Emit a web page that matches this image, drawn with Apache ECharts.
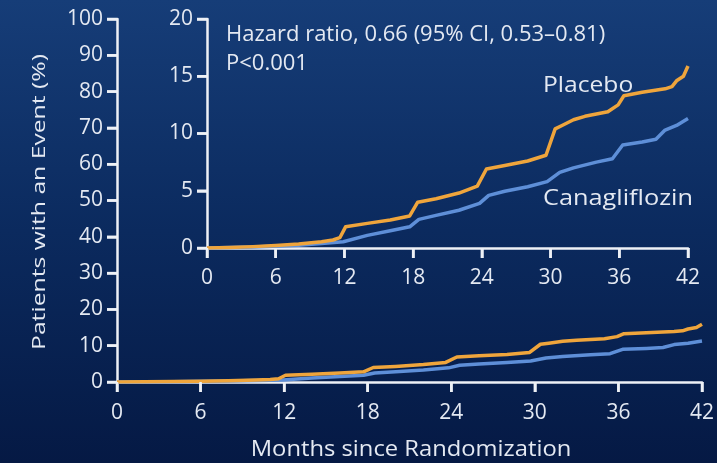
<!DOCTYPE html>
<html>
<head>
<meta charset="utf-8">
<script src="https://cdn.jsdelivr.net/npm/echarts@6/dist/echarts.min.js"></script>
<style>
  html, body { margin: 0; padding: 0; background: #0a2552; }
  #chart { width: 717px; height: 463px; }
</style>
</head>
<body>
<div id="chart"></div>
<script>
// Kaplan-Meier style cumulative incidence (%) with its own time points per group
const placeboMonths = [0, 2, 4, 6, 8, 10, 11, 11.6, 12.1, 14, 16, 17.7, 18.4, 20, 22, 23.6,
  24.4, 26, 28, 29.6, 30.4, 31, 32, 33, 35, 35.9, 36.4, 38, 40, 40.6, 41, 41.6, 42];
const placeboRisk = [0, 0.05, 0.12, 0.22, 0.35, 0.55, 0.7, 0.9, 1.85, 2.15, 2.45, 2.8, 4.0,
  4.3, 4.8, 5.4, 6.9, 7.2, 7.6, 8.1, 10.4, 10.7, 11.2, 11.5, 11.9, 12.5, 13.3, 13.6, 13.9,
  14.1, 14.6, 15.0, 15.9];

const canaMonths = [0, 4, 8, 10, 11.9, 14, 16, 17.7, 18.5, 20, 22, 23.8, 24.6, 26, 28, 29.7,
  30.8, 32, 34, 35.4, 36.3, 38, 39.2, 40, 41, 42];
const canaRisk = [0, 0.08, 0.25, 0.4, 0.55, 1.1, 1.5, 1.85, 2.5, 2.85, 3.3, 3.9, 4.6, 4.95,
  5.35, 5.8, 6.6, 7.0, 7.5, 7.8, 9.0, 9.25, 9.5, 10.3, 10.7, 11.3];

// Tick values for the full-scale plot and the zoomed inset
const monthTicks = [0, 6, 12, 18, 24, 30, 36, 42];
const mainPctTicks = [0, 10, 20, 30, 40, 50, 60, 70, 80, 90, 100];
const insetPctTicks = [0, 5, 10, 15, 20];

const seriesNames = ['Placebo', 'Canagliflozin'];
const hazardText = 'Hazard ratio, 0.66 (95% CI, 0.53\u20130.81)';
const pText = 'P<0.001';
const xTitle = 'Months since Randomization';
const yTitle = 'Patients with an Event (%)';

const FONT = '"Open Sans", "Noto Sans", sans-serif';
const TEXT = '#e4e9f2';
const AXIS = '#eef1f6';
const ORANGE = '#efa53c';
const BLUE = '#5e8fd8';
const TICK_LEN = 10;
const TICK_W = 2.5;

const pairs = (ts, vals) => ts.map((m, i) => [m, vals[i]]);
const firstOf = a => a[0];
const lastOf = a => a[a.length - 1];

function axisStyle(extra) {
  return Object.assign({
    type: 'value',
    axisLine: { show: true, onZero: false, lineStyle: { color: AXIS, width: 2.5 } },
    axisTick: { show: true, length: TICK_LEN, lineStyle: { color: AXIS, width: TICK_W } },
    axisLabel: { show: true, color: TEXT, fontSize: 21, fontFamily: FONT, margin: 14 },
    splitLine: { show: false }
  }, extra);
}

function lineSeries(name, ts, vals, axisIdx, color, z) {
  return {
    name: name, type: 'line', xAxisIndex: axisIdx, yAxisIndex: axisIdx,
    data: pairs(ts, vals), showSymbol: false, z: z,
    lineStyle: { color: color, width: 3.5, join: 'round' }
  };
}

const textElements = [
  { type: 'text', x: 40, y: 202, rotation: Math.PI / 2, scaleX: 1.3, z: 0,
    style: { text: yTitle, fill: TEXT, font: '19px ' + FONT, align: 'center', verticalAlign: 'middle' } },
  { type: 'text', x: 411, y: 450, scaleX: 1.08, z: 0,
    style: { text: xTitle, fill: TEXT, font: '22px ' + FONT, align: 'center', verticalAlign: 'middle' } },
  { type: 'text', x: 226, y: 35, z: 0,
    style: { text: hazardText, fill: TEXT, font: '22px ' + FONT, align: 'left', verticalAlign: 'middle' } },
  { type: 'text', x: 226, y: 64, z: 0,
    style: { text: pText, fill: TEXT, font: '22px ' + FONT, align: 'left', verticalAlign: 'middle' } },
  { type: 'text', x: 543, y: 86, scaleX: 1.12, z: 0,
    style: { text: seriesNames[0], fill: TEXT, font: '22px ' + FONT, align: 'left', verticalAlign: 'middle' } },
  { type: 'text', x: 543, y: 199, scaleX: 1.15, z: 0,
    style: { text: seriesNames[1], fill: TEXT, font: '22px ' + FONT, align: 'left', verticalAlign: 'middle' } }
];

const chart = echarts.init(document.getElementById('chart'), null, { renderer: 'canvas' });

chart.setOption({
  animation: false,
  backgroundColor: {
    type: 'linear', x: 0, y: 0, x2: 0, y2: 1,
    colorStops: [
      { offset: 0, color: '#163d78' },
      { offset: 0.5, color: '#0b2a5e' },
      { offset: 1, color: '#051944' }
    ]
  },
  grid: [
    { left: 117, right: 12, top: 19, bottom: 81 },
    { left: 207, right: 29, top: 19, bottom: 215 }
  ],
  xAxis: [
    axisStyle({ gridIndex: 0, min: firstOf(monthTicks), max: lastOf(monthTicks), interval: 6,
      axisLabel: { show: true, color: TEXT, fontSize: 21, fontFamily: FONT, margin: 21 } }),
    axisStyle({ gridIndex: 1, min: firstOf(monthTicks), max: lastOf(monthTicks), interval: 6,
      axisLabel: { show: true, color: TEXT, fontSize: 21, fontFamily: FONT, margin: 20 } })
  ],
  yAxis: [
    axisStyle({ gridIndex: 0, min: firstOf(mainPctTicks), max: lastOf(mainPctTicks), interval: 10 }),
    axisStyle({ gridIndex: 1, min: firstOf(insetPctTicks), max: lastOf(insetPctTicks), interval: 5 })
  ],
  graphic: textElements,
  series: [
    lineSeries(seriesNames[1], canaMonths, canaRisk, 0, BLUE, 3),
    lineSeries(seriesNames[0], placeboMonths, placeboRisk, 0, ORANGE, 4),
    lineSeries(seriesNames[1], canaMonths, canaRisk, 1, BLUE, 3),
    lineSeries(seriesNames[0], placeboMonths, placeboRisk, 1, ORANGE, 4)
  ]
});

// Outward tick marks as small filled bars at the axis values of each grid
function tickMarks(axisIdx, xVals, yVals) {
  const marks = [];
  const finder = { xAxisIndex: axisIdx, yAxisIndex: axisIdx };
  const yMin = firstOf(yVals), xMin = firstOf(xVals);
  xVals.forEach(v => {
    const p = chart.convertToPixel(finder, [v, yMin]);
    if (!p) return;
    marks.push({ type: 'rect', silent: true, z: 50,
      shape: { x: p[0] - TICK_W / 2, y: p[1], width: TICK_W, height: TICK_LEN },
      style: { fill: AXIS } });
  });
  yVals.forEach(v => {
    const p = chart.convertToPixel(finder, [xMin, v]);
    if (!p) return;
    marks.push({ type: 'rect', silent: true, z: 50,
      shape: { x: p[0] - TICK_LEN, y: p[1] - TICK_W / 2, width: TICK_LEN, height: TICK_W },
      style: { fill: AXIS } });
  });
  return marks;
}

let ticks = [];
try {
  ticks = tickMarks(0, monthTicks, mainPctTicks).concat(tickMarks(1, monthTicks, insetPctTicks));
} catch (e) {
  ticks = [];
}
chart.setOption({ graphic: textElements.concat(ticks) });
</script>
</body>
</html>
